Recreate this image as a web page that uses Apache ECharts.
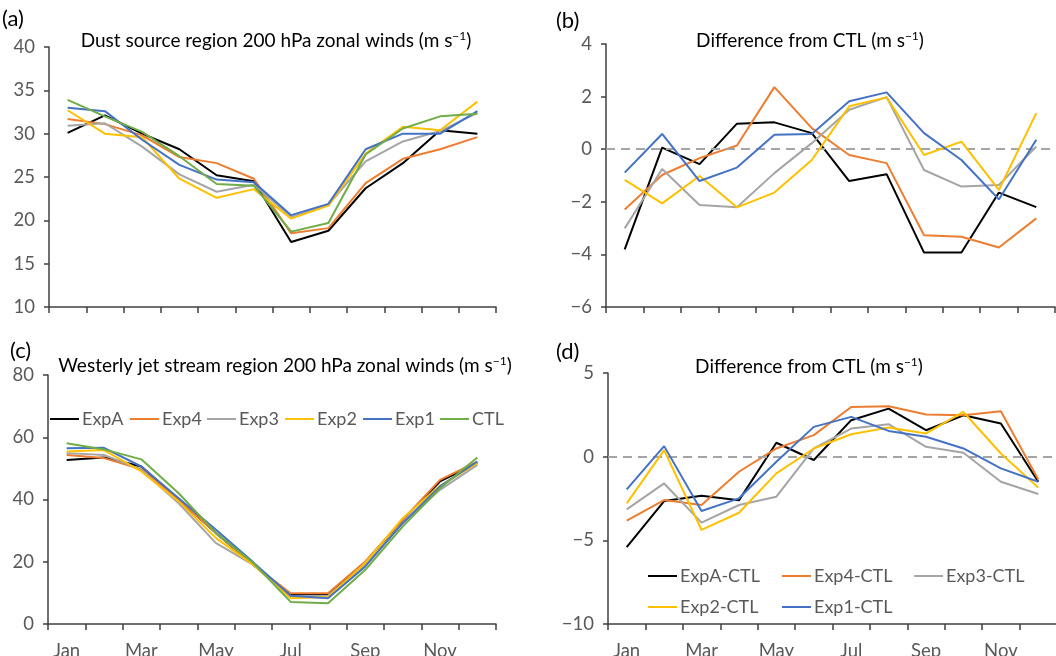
<!DOCTYPE html>
<html>
<head>
<meta charset="utf-8">
<script src="https://cdn.jsdelivr.net/npm/echarts@6/dist/echarts.min.js"></script>
<style>
html,body{margin:0;padding:0;background:#fff;}
#chart{width:1056px;height:656px;}
</style>
</head>
<body>
<div id="chart"></div>
<script>
// ---------- data ----------
const months = ['Jan','Feb','Mar','Apr','May','Jun','Jul','Aug','Sep','Oct','Nov','Dec'];
const expNames = ['ExpA','Exp4','Exp3','Exp2','Exp1','CTL'];
const diffNames = ['ExpA-CTL','Exp4-CTL','Exp3-CTL','Exp2-CTL','Exp1-CTL'];

// (a) Dust source region 200 hPa zonal winds
const dustExpA = [30.1, 32.1, 30.0, 28.2, 25.2, 24.5, 17.5, 18.8, 23.7, 26.6, 30.4, 30.0];
const dustExp4 = [31.7, 31.1, 29.8, 27.3, 26.6, 24.8, 18.5, 19.1, 24.3, 27.1, 28.2, 29.6];
const dustExp3 = [30.9, 31.2, 28.5, 25.3, 23.3, 24.1, 20.4, 21.8, 26.8, 29.1, 30.3, 32.4];
const dustExp2 = [32.7, 30.0, 29.6, 24.8, 22.6, 23.6, 20.2, 21.7, 27.7, 30.8, 30.4, 33.7];
const dustExp1 = [33.0, 32.6, 29.3, 26.4, 24.7, 24.4, 20.6, 21.9, 28.2, 30.0, 30.0, 32.6];
const dustCTL  = [33.9, 32.0, 30.2, 27.4, 24.2, 24.0, 18.7, 19.7, 27.6, 30.6, 32.0, 32.3];

// (b) Dust source region difference from CTL
const dustDiffExpA = [-3.81, 0.06, -0.57, 0.97, 1.02, 0.61, -1.21, -0.95, -3.93, -3.93, -1.65, -2.20];
const dustDiffExp4 = [-2.29, -0.98, -0.34, 0.14, 2.36, 0.80, -0.22, -0.53, -3.27, -3.33, -3.74, -2.63];
const dustDiffExp3 = [-3.01, -0.75, -2.12, -2.21, -0.91, 0.23, 1.50, 1.98, -0.79, -1.42, -1.36, 0.10];
const dustDiffExp2 = [-1.17, -2.06, -1.02, -2.21, -1.65, -0.41, 1.63, 1.97, -0.22, 0.29, -1.55, 1.37];
const dustDiffExp1 = [-0.89, 0.58, -1.21, -0.70, 0.55, 0.58, 1.82, 2.16, 0.61, -0.41, -1.91, 0.36];

// (c) Westerly jet stream region 200 hPa zonal winds
const jetExpA = [52.7, 53.5, 50.6, 39.9, 29.2, 19.0, 9.4, 9.6, 19.9, 33.5, 45.8, 51.7];
const jetExp4 = [54.3, 53.3, 49.7, 39.9, 29.2, 19.0, 9.9, 9.9, 20.1, 33.5, 46.3, 52.2];
const jetExp3 = [54.9, 54.3, 49.5, 38.8, 26.0, 19.0, 8.9, 9.1, 19.0, 32.4, 43.1, 51.1];
const jetExp2 = [55.4, 55.9, 49.0, 39.4, 27.6, 19.0, 8.3, 8.7, 19.6, 34.0, 44.4, 51.7];
const jetExp1 = [56.5, 56.6, 50.6, 40.4, 30.3, 19.8, 9.1, 8.3, 18.5, 32.4, 44.2, 52.2];
const jetCTL  = [58.1, 56.1, 52.9, 42.0, 29.2, 19.6, 7.1, 6.7, 17.4, 31.3, 43.6, 53.5];

// (d) Westerly jet region difference from CTL
const jetDiffExpA = [-5.41, -2.65, -2.33, -2.61, 0.83, -0.20, 2.18, 2.87, 1.58, 2.47, 1.98, -1.50];
const jetDiffExp4 = [-3.82, -2.59, -2.89, -0.90, 0.49, 1.29, 2.97, 3.01, 2.52, 2.47, 2.71, -1.36];
const jetDiffExp3 = [-3.15, -1.60, -3.94, -2.89, -2.39, 0.49, 1.68, 1.94, 0.59, 0.23, -1.50, -2.23];
const jetDiffExp2 = [-2.79, 0.39, -4.38, -3.35, -1.00, 0.49, 1.34, 1.74, 1.39, 2.67, 0.19, -1.85];
const jetDiffExp1 = [-1.95, 0.63, -3.25, -2.49, -0.30, 1.78, 2.38, 1.54, 1.19, 0.49, -0.70, -1.50];

const zeroLine = 0;

// ---------- styling ----------
const colors = ['#000000', '#ED7D31', '#A5A5A5', '#FFC000', '#4472C4', '#70AD47'];
const FONT = 'Lato, "Open Sans", sans-serif';
const axisColor = '#404040';
const labelColor = '#595959';

const chart = echarts.init(document.getElementById('chart'), null, {renderer: 'canvas'});

const gridBase = {containLabel: false, outerBoundsMode: 'none'};
const grids = [
  Object.assign({left: 49, top: 47, width: 447, height: 260}, gridBase),
  Object.assign({left: 606, top: 44, width: 449, height: 263}, gridBase),
  Object.assign({left: 48, top: 375, width: 448, height: 249}, gridBase),
  Object.assign({left: 608, top: 373, width: 449, height: 251}, gridBase)
];

function minusFmt(v) { return v < 0 ? '\u2212' + Math.abs(v) : String(v); }

function xAxis(gi, showLabels) {
  return {
    type: 'category', gridIndex: gi, data: months, boundaryGap: true,
    axisLine: {show: true, onZero: false, lineStyle: {color: axisColor, width: 1.5}},
    axisTick: {show: true, interval: 0, length: 6, lineStyle: {color: axisColor, width: 1.5}},
    axisLabel: {show: showLabels, interval: 1, margin: 18, color: labelColor, fontSize: 18.5, fontFamily: FONT},
    splitLine: {show: false}
  };
}
function yAxis(gi, min, max, interval) {
  return {
    type: 'value', gridIndex: gi, min: min, max: max, interval: interval,
    axisLine: {show: true, onZero: false, lineStyle: {color: axisColor, width: 1.5}},
    axisTick: {show: true, length: 5, lineStyle: {color: axisColor, width: 1.5}},
    axisLabel: {margin: 14, color: labelColor, fontSize: 18.5, fontFamily: FONT, formatter: minusFmt},
    splitLine: {show: false}
  };
}

const dustSets = [dustExpA, dustExp4, dustExp3, dustExp2, dustExp1, dustCTL];
const dustDiffSets = [dustDiffExpA, dustDiffExp4, dustDiffExp3, dustDiffExp2, dustDiffExp1];
const jetSets = [jetExpA, jetExp4, jetExp3, jetExp2, jetExp1, jetCTL];
const jetDiffSets = [jetDiffExpA, jetDiffExp4, jetDiffExp3, jetDiffExp2, jetDiffExp1];

const series = [];
function addLines(names, sets, gi) {
  sets.forEach((d, i) => {
    series.push({
      name: names[i], type: 'line', xAxisIndex: gi, yAxisIndex: gi, data: d,
      symbol: 'none', showSymbol: false, smooth: false,
      lineStyle: {color: colors[i], width: 2}, itemStyle: {color: colors[i]},
      z: 3 + i, animation: false
    });
  });
}
// dashed zero lines
[1, 3].forEach(gi => {
  series.push({
    name: 'zero' + gi, type: 'line', xAxisIndex: gi, yAxisIndex: gi, data: [],
    symbol: 'none', animation: false, silent: true,
    itemStyle: {color: '#A5A5A5'}, lineStyle: {color: '#A5A5A5'}, z: 2,
    markLine: {
      silent: true, symbol: ['none', 'none'], label: {show: false}, animation: false,
      lineStyle: {color: '#A5A5A5', type: [9, 6], width: 2.2, opacity: 1},
      emphasis: {disabled: true},
      data: [{yAxis: zeroLine}]
    }
  });
});
addLines(expNames, dustSets, 0);
addLines(diffNames, dustDiffSets, 1);
addLines(expNames, jetSets, 2);
addLines(diffNames, jetDiffSets, 3);

// legends (one per item so each can be placed like the reference)
const legendTextStyle = {color: labelColor, fontSize: 18, fontFamily: FONT, padding: [0, 0, 0, -2]};
const legends = [];
const cLegendLeft = [50, 130, 207, 285, 363, 440];
expNames.forEach((n, i) => legends.push({
  data: [n], left: cLegendLeft[i], top: 410, itemWidth: 29, itemHeight: 2, itemGap: 0,
  icon: 'rect', padding: 0, textStyle: legendTextStyle, selectedMode: false
}));
const dLegendPos = [[648, 567], [782, 567], [914, 567], [648, 598], [782, 598]];
diffNames.forEach((n, i) => legends.push({
  data: [n], left: dLegendPos[i][0], top: dLegendPos[i][1], itemWidth: 29, itemHeight: 2, itemGap: 0,
  icon: 'rect', padding: 0, textStyle: legendTextStyle, selectedMode: false
}));

// titles
const rich = {
  t: {fontSize: 19, fontFamily: FONT, color: '#000'},
  sup: {fontSize: 12, fontFamily: FONT, color: '#000', verticalAlign: 'top', padding: [0, 0, 10, 0]}
};
function titleText(x, y, main) {
  return {
    type: 'text', x: x, y: y,
    style: {
      text: '{t|' + main + ' (m s}{sup|\u22121}{t|)}',
      rich: rich, align: 'center', verticalAlign: 'middle'
    }
  };
}
function panelLabel(x, y, t) {
  return {type: 'text', x: x, y: y, style: {text: t, fontSize: 22, fontFamily: FONT, fill: '#000', verticalAlign: 'middle'}};
}

const option = {
  animation: false,
  backgroundColor: '#fff',
  grid: grids,
  xAxis: [xAxis(0, false), xAxis(1, false), xAxis(2, true), xAxis(3, true)],
  yAxis: [yAxis(0, 10, 40, 5), yAxis(1, -6, 4, 2), yAxis(2, 0, 80, 20), yAxis(3, -10, 5, 5)],
  legend: legends,
  series: series,
  graphic: [
    panelLabel(2, 19, '(a)'),
    panelLabel(556, 21, '(b)'),
    panelLabel(10, 351, '(c)'),
    panelLabel(556, 352, '(d)'),
    titleText(276, 41, 'Dust source region 200 hPa zonal winds'),
    titleText(810, 41, 'Difference from CTL'),
    titleText(285, 366, 'Westerly jet stream region 200 hPa zonal winds'),
    titleText(809, 367, 'Difference from CTL')
  ]
};
chart.setOption(option);
</script>
</body>
</html>
